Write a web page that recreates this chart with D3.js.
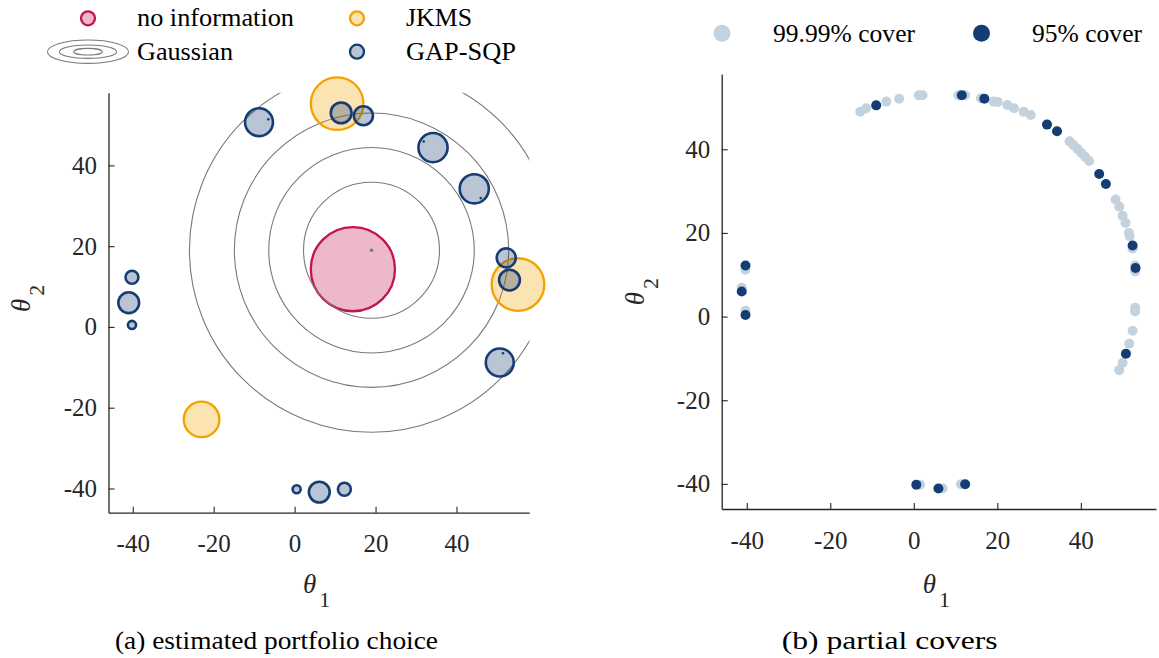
<!DOCTYPE html>
<html>
<head>
<meta charset="utf-8">
<script src="https://cdn.jsdelivr.net/npm/d3@7"></script>
<style>
  html, body { margin: 0; padding: 0; background: #fff; }
  svg { display: block; }
  svg text { font-family: "Liberation Serif", "DejaVu Serif", serif !important; }
</style>
</head>
<body>
<svg id="chart" width="1159" height="658"></svg>
<script>
// ---------- shared axis settings ----------
const axisDomain = [-46, 58];
const tickValues = [-40, -20, 0, 20, 40];

// ---------- (a) estimated portfolio choice ----------
// "no information" choice
const noInfoX = [14.4];
const noInfoY = [14.3];
const noInfoR = [10.4];
// Gaussian prior: centre and contour radii
const gaussX = [19];
const gaussY = [19];
const gaussContourR = [16.8, 25.4, 33.9, 45.0];
// JKMS estimates
const jkmsX = [10.5, 55.2, -23.0];
const jkmsY = [55.3, 10.5, -22.9];
const jkmsR = [6.5, 6.5, 4.4];
// GAP-SQP estimates
const gapX = [-8.8, 11.5, 17.0, 34.2, 44.4, 52.3, 53.1, 50.7, -40.2, -41.0, -40.2, 0.5, 6.1, 12.3];
const gapY = [50.7, 53.0, 52.3, 44.4, 34.2, 17.1, 11.6, -8.8, 12.3, 6.0, 0.5, -40.2, -40.9, -40.2];
const gapR = [3.45, 2.57, 2.35, 3.6, 3.6, 2.35, 2.57, 3.45, 1.6, 2.57, 1.0, 1.0, 2.57, 1.6];
// GAP-SQP point estimates drawn as small dots
const gapDotX = [-6.5, 31.9, 46.0, 51.5];
const gapDotY = [51.4, 45.9, 31.9, -6.5];

// ---------- (b) partial covers ----------
const cover9999X = [-12.8, -11.4, -6.6, -3.5, 1.2, 2.1, 10.7, 12.3, 16.1, 19.1, 20.1, 22.4, 24.0, 26.3, 28.0,
                    37.3, 38.2, 39.2, 40.1, 41.0, 42.0,
                    48.3, 49.2, 50.0, 50.7, 51.5, 51.7, 52.4, 53.0, 53.0, 53.0, 53.0, 52.4, 51.6, 50.0, 49.2,
                    -40.3, -41.2, -40.3, 1.5, 6.9, 11.3];
const cover9999Y = [49.0, 49.8, 51.4, 52.1, 52.9, 52.9, 52.9, 52.9, 52.2, 51.4, 51.3, 50.6, 49.8, 49.0, 48.2,
                    41.9, 41.0, 40.1, 39.1, 38.2, 37.2,
                    28.0, 26.3, 24.1, 22.4, 20.0, 19.2, 16.3, 12.2, 10.8, 2.1, 1.3, -3.4, -6.5, -11.1, -12.8,
                    11.2, 6.9, 1.4, -40.2, -41.1, -40.1];
const cover95X = [-9.0, 11.5, 16.9, 31.9, 34.3, 44.4, 46.0, 52.4, 53.1, 50.8, -40.3, -41.2, -40.3, 0.6, 5.9, 12.3];
const cover95Y = [50.5, 52.9, 52.1, 45.9, 44.3, 34.1, 31.7, 17.0, 11.6, -8.9, 12.2, 6.0, 0.4, -40.2, -41.1, -40.1];

// ---------- colours ----------
const C = {
  axis: "#262626",
  pink: "#c4154b",
  orange: "#f2a200",
  blue: "#163d73",
  gauss: "#7a7a7a",
  light: "#c3d2df",
  dark: "#143d74"
};
const FONT = '"Liberation Serif", "DejaVu Serif", serif';

const svg = d3.select("#chart");
const zip = (xs, ys, rs) => xs.map((x, i) => ({ x, y: ys[i], r: rs ? rs[i] : 0 }));

// ---------- scales ----------
const xL = d3.scaleLinear().domain(axisDomain).range([108.5, 529.3]);
const yL = d3.scaleLinear().domain(axisDomain).range([512.7, 92.7]);
const xR = d3.scaleLinear().domain(axisDomain).range([721.7, 1156]);
const yR = d3.scaleLinear().domain(axisDomain).range([509, 74]);

function drawAxes(x, y) {
  const fmt = d => String(d);
  const style = g => {
    g.attr("font-size", null).attr("font-family", FONT);
    g.select(".domain").attr("stroke", C.axis).attr("stroke-width", 1.3);
    g.selectAll(".tick line").attr("stroke", C.axis).attr("stroke-width", 1.1);
    g.selectAll(".tick text").attr("fill", C.axis)
      .style("font-family", FONT).style("font-size", "25px");
  };
  svg.append("g")
    .attr("transform", `translate(0,${y.range()[0]})`)
    .call(d3.axisBottom(x).tickValues(tickValues).tickFormat(fmt)
      .tickSizeInner(-6).tickSizeOuter(0).tickPadding(22))
    .call(style);
  svg.append("g")
    .attr("transform", `translate(${x.range()[0]},0)`)
    .call(d3.axisLeft(y).tickValues(tickValues).tickFormat(fmt)
      .tickSizeInner(-6).tickSizeOuter(0).tickPadding(11.5))
    .call(style);
}

function thetaLabel(x, y, sub, rotate) {
  const t = svg.append("text")
    .attr("transform", `translate(${x},${y})` + (rotate ? " rotate(-90)" : ""))
    .attr("fill", C.axis).style("font-family", FONT);
  t.append("tspan").attr("font-style", "italic").style("font-size", "27px").text("θ");
  t.append("tspan").attr("dx", 3).attr("dy", 14).style("font-size", "22px").text(sub);
}

function label(x, y, txt, size, len) {
  const t = svg.append("text").attr("x", x).attr("y", y)
    .attr("fill", "#000").style("font-family", FONT).style("font-size", size + "px").text(txt);
  if (len) t.attr("textLength", len).attr("lengthAdjust", "spacingAndGlyphs");
  return t;
}

// ================= panel (a) =================
svg.append("clipPath").attr("id", "clipA").append("rect")
  .attr("x", xL.range()[0]).attr("y", yL.range()[1])
  .attr("width", xL.range()[1] - xL.range()[0])
  .attr("height", yL.range()[0] - yL.range()[1]);

const pA = svg.append("g");

// no information
pA.selectAll("circle.noinfo").data(zip(noInfoX, noInfoY, noInfoR)).join("circle")
  .attr("class", "noinfo")
  .attr("cx", d => xL(d.x)).attr("cy", d => yL(d.y))
  .attr("r", d => xL(d.r) - xL(0))
  .attr("fill", C.pink).attr("fill-opacity", 0.3)
  .attr("stroke", C.pink).attr("stroke-width", 2.3);

// Gaussian contours (clipped to the axes box)
pA.append("g").attr("clip-path", "url(#clipA)")
  .selectAll("circle").data(gaussContourR).join("circle")
  .attr("cx", xL(gaussX[0])).attr("cy", yL(gaussY[0]))
  .attr("r", d => xL(d) - xL(0))
  .attr("fill", "none").attr("stroke", C.gauss).attr("stroke-width", 1.1);
pA.append("circle")
  .attr("cx", xL(gaussX[0])).attr("cy", yL(gaussY[0])).attr("r", 1.8)
  .attr("fill", C.gauss);

// JKMS
pA.selectAll("circle.jkms").data(zip(jkmsX, jkmsY, jkmsR)).join("circle")
  .attr("class", "jkms")
  .attr("cx", d => xL(d.x)).attr("cy", d => yL(d.y))
  .attr("r", d => xL(d.r) - xL(0))
  .attr("fill", C.orange).attr("fill-opacity", 0.3)
  .attr("stroke", C.orange).attr("stroke-width", 2.3);

// GAP-SQP
pA.selectAll("circle.gap").data(zip(gapX, gapY, gapR)).join("circle")
  .attr("class", "gap")
  .attr("cx", d => xL(d.x)).attr("cy", d => yL(d.y))
  .attr("r", d => xL(d.r) - xL(0))
  .attr("fill", C.blue).attr("fill-opacity", 0.3)
  .attr("stroke", C.blue).attr("stroke-width", 2.6);
pA.selectAll("circle.gapdot").data(zip(gapDotX, gapDotY)).join("circle")
  .attr("class", "gapdot")
  .attr("cx", d => xL(d.x)).attr("cy", d => yL(d.y)).attr("r", 1.3)
  .attr("fill", C.blue);

drawAxes(xL, yL);
thetaLabel(303, 593, "1", false);
thetaLabel(29.6, 312, "2", true);

// legend (a)
svg.append("circle").attr("cx", 88).attr("cy", 18.3).attr("r", 7)
  .attr("fill", C.pink).attr("fill-opacity", 0.3).attr("stroke", C.pink).attr("stroke-width", 2.3);
[[40.5, 11.7], [28.6, 6.7], [14.3, 3.3]].forEach(([rx, ry]) => {
  svg.append("ellipse").attr("cx", 88).attr("cy", 51.7).attr("rx", rx).attr("ry", ry)
    .attr("fill", "none").attr("stroke", C.gauss).attr("stroke-width", 1.1);
});
svg.append("circle").attr("cx", 357).attr("cy", 18.3).attr("r", 7)
  .attr("fill", C.orange).attr("fill-opacity", 0.3).attr("stroke", C.orange).attr("stroke-width", 2.3);
svg.append("circle").attr("cx", 357).attr("cy", 51.7).attr("r", 7)
  .attr("fill", C.blue).attr("fill-opacity", 0.3).attr("stroke", C.blue).attr("stroke-width", 2.3);
label(137, 25.5, "no information", 25, 157);
label(137, 60, "Gaussian", 25, 96);
label(406, 25.5, "JKMS", 25, 66);
label(406, 60, "GAP-SQP", 25, 110);

label(115, 649, "(a) estimated portfolio choice", 26, 323);

// ================= panel (b) =================
const pB = svg.append("g");
pB.selectAll("circle.c9999").data(zip(cover9999X, cover9999Y)).join("circle")
  .attr("class", "c9999")
  .attr("cx", d => xR(d.x)).attr("cy", d => yR(d.y)).attr("r", 5)
  .attr("fill", C.light);
pB.selectAll("circle.c95").data(zip(cover95X, cover95Y)).join("circle")
  .attr("class", "c95")
  .attr("cx", d => xR(d.x)).attr("cy", d => yR(d.y)).attr("r", 5)
  .attr("fill", C.dark);

drawAxes(xR, yR);
thetaLabel(922.7, 593, "1", false);
thetaLabel(643.9, 305.3, "2", true);

// legend (b)
svg.append("circle").attr("cx", 722).attr("cy", 33.3).attr("r", 8.5).attr("fill", C.light);
svg.append("circle").attr("cx", 981.5).attr("cy", 33.3).attr("r", 8.5).attr("fill", C.dark);
label(773, 42, "99.99% cover", 25, 142);
label(1032, 42, "95% cover", 25, 110);

label(781.7, 649, "(b) partial covers", 26, 216);
</script>
</body>
</html>
